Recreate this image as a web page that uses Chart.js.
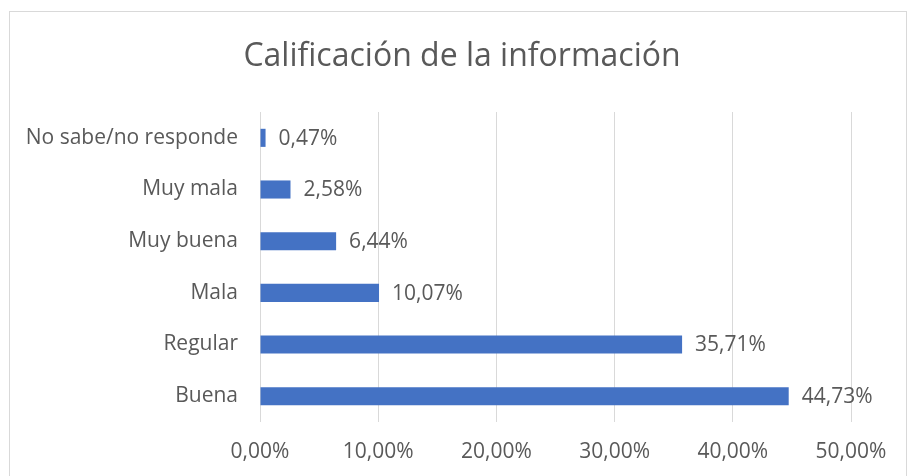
<!DOCTYPE html>
<html>
<head>
<meta charset="utf-8">
<script src="https://cdn.jsdelivr.net/npm/chart.js@4"></script>
<style>
    html, body { margin: 0; padding: 0; background: #fff; }
    #wrap { width: 908px; height: 476px; position: relative; }
</style>
</head>
<body>
<div id="wrap"><canvas id="califChart" width="908" height="476"></canvas></div>
<script>
// Categories from top to bottom as they appear in the chart
const categories = ['No sabe/no responde', 'Muy mala', 'Muy buena', 'Mala', 'Regular', 'Buena'];
const percentages = [0.47, 2.58, 6.44, 10.07, 35.71, 44.73];
const xTicks = [0, 10, 20, 30, 40, 50];
const chartTitle = 'Calificación de la información';

const textColor = '#595959';
const gridColor = '#d9d9d9';
const fontFamily = '"Open Sans", sans-serif';

function formatPct(v) {
    return v.toFixed(2).replace('.', ',') + '%';
}

// Outer chart border + title centred on the whole frame (not the padded box)
const framePlugin = {
    id: 'frame',
    beforeDraw(chart) {
        const c = chart.ctx;
        c.save();
        c.fillStyle = '#fff';
        c.fillRect(0, 0, chart.width, chart.height);
        c.strokeStyle = gridColor;
        c.lineWidth = 1;
        c.strokeRect(9.5, 11.5, 897, 470);
        c.font = '32px ' + fontFamily;
        c.fillStyle = textColor;
        c.textAlign = 'center';
        c.textBaseline = 'middle';
        c.fillText(chartTitle, 462, 57);
        c.restore();
    }
};

// Value labels to the right of each bar
const valueLabels = {
    id: 'valueLabels',
    afterDatasetsDraw(chart) {
        const c = chart.ctx;
        const meta = chart.getDatasetMeta(0);
        c.save();
        c.font = '21px ' + fontFamily;
        c.fillStyle = textColor;
        c.textAlign = 'left';
        c.textBaseline = 'middle';
        meta.data.forEach((bar, i) => {
            c.fillText(formatPct(percentages[i]), bar.x + 13, bar.y + 1);
        });
        c.restore();
    }
};

const ctx = document.getElementById('califChart').getContext('2d');
new Chart(ctx, {
    type: 'bar',
    data: {
        labels: categories,
        datasets: [{
            data: percentages,
            backgroundColor: '#4472C4',
            borderWidth: 0,
            barPercentage: 0.5,
            categoryPercentage: 0.7
        }]
    },
    options: {
        indexAxis: 'y',
        responsive: false,
        animation: false,
        layout: {
            padding: { left: 0, right: 57, top: 112, bottom: 9 }
        },
        plugins: {
            legend: { display: false },
            tooltip: { enabled: false },
            title: { display: false }
        },
        scales: {
            x: {
                min: 0,
                max: 50,
                afterBuildTicks: (axis) => {
                    axis.ticks = xTicks.map(v => ({ value: v }));
                },
                afterFit: (axis) => { axis.height = 45; },
                grid: { color: gridColor, drawTicks: false },
                border: { display: false },
                ticks: {
                    color: textColor,
                    padding: 17,
                    font: { family: fontFamily, size: 21 },
                    callback: (v) => formatPct(v)
                }
            },
            y: {
                afterFit: (axis) => { axis.width = 260; },
                grid: { display: false, drawTicks: false },
                border: { display: false },
                ticks: {
                    color: textColor,
                    padding: 22,
                    font: { family: fontFamily, size: 21 }
                }
            }
        }
    },
    plugins: [framePlugin, valueLabels]
});
</script>
</body>
</html>
